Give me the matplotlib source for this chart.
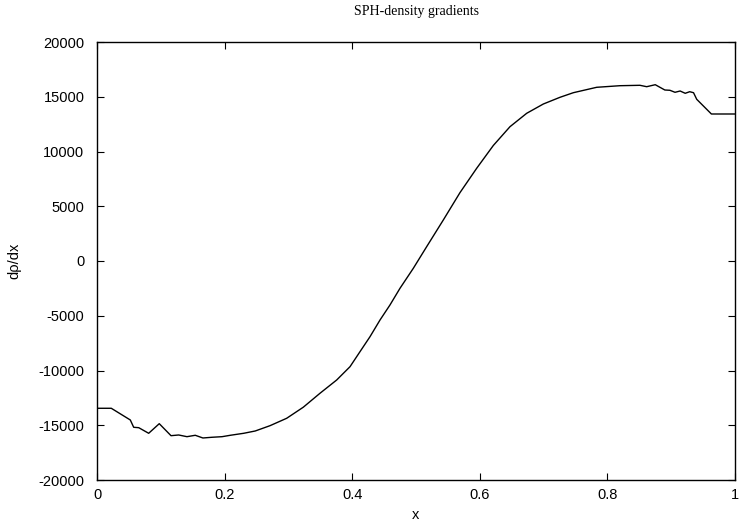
import matplotlib
matplotlib.use("Agg")
import matplotlib.pyplot as plt

x = [0.0, 0.0224, 0.0522, 0.0575, 0.0654, 0.0810, 0.0976, 0.116, 0.128, 0.141,
     0.154, 0.166, 0.180, 0.196, 0.209, 0.230, 0.248, 0.2712, 0.2973, 0.3234,
     0.3495, 0.3757, 0.3966, 0.4122, 0.4279, 0.4436, 0.4592, 0.4749, 0.4958, 0.5167,
     0.5428, 0.5690, 0.5951, 0.6212, 0.6473, 0.6735, 0.6996, 0.7257, 0.7466, 0.7832,
     0.8197, 0.851, 0.8616, 0.875, 0.890, 0.898, 0.906, 0.914, 0.922, 0.929,
     0.935, 0.940, 0.963, 1.0]
grad = [-13450, -13450, -14519, -15186, -15222, -15734, -14857, -15953, -15889, -16044,
        -15916, -16163, -16099, -16044, -15916, -15734, -15524, -15039, -14364, -13350,
        -12080, -10866, -9650, -8282, -6913, -5387, -4017, -2493, -666, 1307,
        3745, 6250, 8466, 10550, 12265, 13489, 14338, 14950, 15370, 15863,
        16009, 16046, 15918, 16100, 15617, 15590, 15407, 15525, 15315, 15461,
        15370, 14767, 13425, 13425]

xticks = [0, 0.2, 0.4, 0.6, 0.8, 1]
xticklabels = ["0", "0.2", "0.4", "0.6", "0.8", "1"]
yticks = [-20000, -15000, -10000, -5000, 0, 5000, 10000, 15000, 20000]

plt.rcParams['font.family'] = ['Liberation Sans', 'DejaVu Sans']

fig = plt.figure(figsize=(7.39, 5.24), dpi=100)
ax = fig.add_axes([97/739, 1-480/524, (735-97)/739, (480-42)/524])
ax.plot(x, grad, color='black', lw=1.0)
ax.set_xlim(0, 1)
ax.set_ylim(-20000, 20000)
ax.set_xticks(xticks)
ax.set_xticklabels(xticklabels)
ax.set_yticks(yticks)
ax.set_yticklabels([str(v) for v in yticks])
ax.tick_params(direction='in', length=5, width=0.8, top=True, right=True,
               labelsize=10.5)
ax.tick_params(axis='y', pad=9)
ax.tick_params(axis='x', pad=6)
for s in ax.spines.values():
    s.set_linewidth(1.0)
ax.set_xlabel('x', fontsize=10.5, labelpad=4)
ax.set_ylabel('dρ/dx', fontsize=10.5, labelpad=12)
fig.text(416/739, 1-12/524, 'SPH-density gradients', ha='center', va='center',
         family='Liberation Serif', fontsize=10)
fig.savefig('out.png', dpi=100)
